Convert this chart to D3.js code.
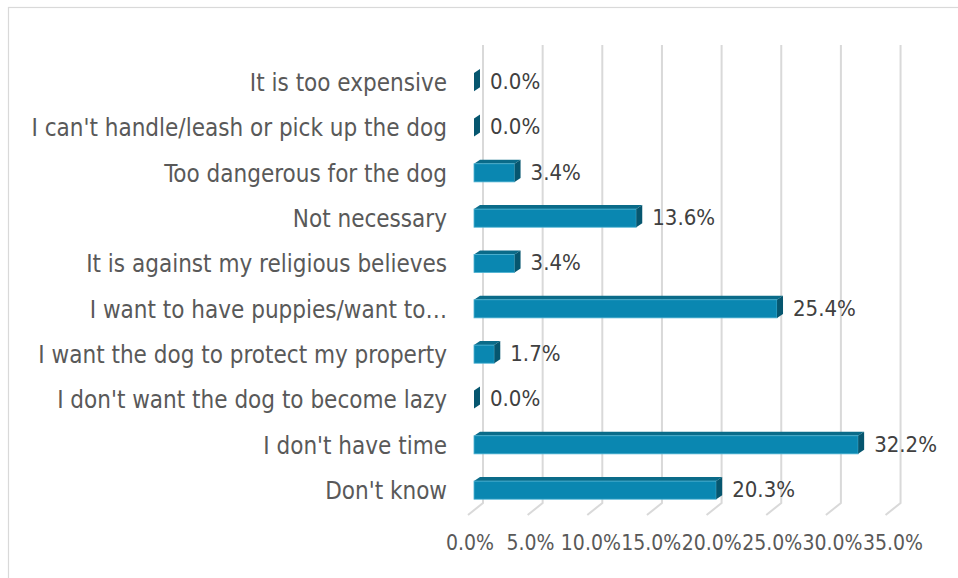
<!DOCTYPE html>
<html>
<head>
<meta charset="utf-8">
<script src="https://cdn.jsdelivr.net/npm/d3@7/dist/d3.min.js"></script>
<style>
  html, body { margin: 0; padding: 0; background: #ffffff; }
  svg { display: block; }
  text { font-family: "DejaVu Sans Condensed", "DejaVu Sans", sans-serif; }
</style>
</head>
<body>
<svg id="chart" width="958" height="578"></svg>
<script>
// Reasons given for not neutering the dog (share of respondents)
const categories = [
  "It is too expensive",
  "I can't handle/leash or pick up the dog",
  "Too dangerous for the dog",
  "Not necessary",
  "It is against my religious believes",
  "I want to have puppies/want to…",
  "I want the dog to protect my property",
  "I don't want the dog to become lazy",
  "I don't have time",
  "Don't know"
];
const values = [0.0, 0.0, 3.4, 13.6, 3.4, 25.4, 1.7, 0.0, 32.2, 20.3];
const tickValues = [0, 5, 10, 15, 20, 25, 30, 35];

const svg = d3.select("#chart");
const W = 958, H = 578;

// chart area outline
svg.append("rect")
  .attr("x", 8.5).attr("y", 7.5)
  .attr("width", W + 20).attr("height", H + 20)
  .attr("fill", "none").attr("stroke", "#d9d9d9").attr("stroke-width", 1.2);

// front plane of the 3-D plot
const x = d3.scaleLinear().domain([0, 35]).range([474, 474 + 35 * 11.93]);
const y = d3.scaleBand().domain(categories).range([59.5, 512.8]).paddingInner(0.6).paddingOuter(0.3);

// depth offsets: back wall and bar top faces
const wallDx = 9, floorDx = -6, floorY = 515, wallTop = 45, wallBottom = 503;
const dx = 6, dy = 4;

// gridlines on the back wall with their floor returns
const grid = svg.append("g").attr("stroke", "#d9d9d9").attr("stroke-width", 2).attr("fill", "none");
tickValues.forEach(v => {
  const xb = x(v) + wallDx;
  grid.append("path")
    .attr("d", `M${xb},${wallTop} L${xb},${wallBottom} L${x(v) + floorDx},${floorY}`);
});

// tick labels along the floor edge
const xLabel = d3.scaleLinear().domain([0, 35]).range([470, 893]);
svg.append("g").selectAll("text").data(tickValues).join("text")
  .attr("x", d => xLabel(d))
  .attr("y", 543)
  .attr("text-anchor", "middle")
  .attr("dominant-baseline", "central")
  .attr("font-size", 21)
  .attr("fill", "#595959")
  .text(d => d3.format(".1f")(d) + "%");

// category labels
svg.append("g").selectAll("text").data(categories).join("text")
  .attr("x", 447)
  .attr("y", d => y(d) + y.bandwidth() / 2 + 1)
  .attr("text-anchor", "end")
  .attr("dominant-baseline", "central")
  .attr("font-size", 24)
  .attr("fill", "#595959")
  .text(d => d);

// 3-D bars
const bars = svg.append("g").selectAll("g").data(categories.map((c, i) => ({ c, v: values[i] }))).join("g");
bars.each(function (d) {
  const g = d3.select(this);
  const x0 = x(0), x1 = x(d.v), y0 = y(d.c), h = y.bandwidth();
  if (x1 > x0) {
    g.append("path")
      .attr("d", `M${x0},${y0} L${x0 + dx},${y0 - dy} L${x1 + dx},${y0 - dy} L${x1},${y0} Z`)
      .attr("fill", "#0a6b89");
    g.append("rect")
      .attr("x", x0).attr("y", y0).attr("width", x1 - x0).attr("height", h)
      .attr("fill", "#0a87b1").attr("stroke", "#4fb3d3").attr("stroke-width", 0.8);
  }
  g.append("path")
    .attr("d", `M${x1},${y0} L${x1 + dx},${y0 - dy} L${x1 + dx},${y0 + h - dy} L${x1},${y0 + h} Z`)
    .attr("fill", "#06566f");
});

// value labels
svg.append("g").selectAll("text").data(categories.map((c, i) => ({ c, v: values[i] }))).join("text")
  .attr("x", d => x(d.v) + dx + 10)
  .attr("y", d => y(d.c) + y.bandwidth() / 2 - 0.5)
  .attr("dominant-baseline", "central")
  .attr("font-size", 22)
  .attr("fill", "#404040")
  .text(d => d3.format(".1f")(d.v) + "%");
</script>
</body>
</html>
